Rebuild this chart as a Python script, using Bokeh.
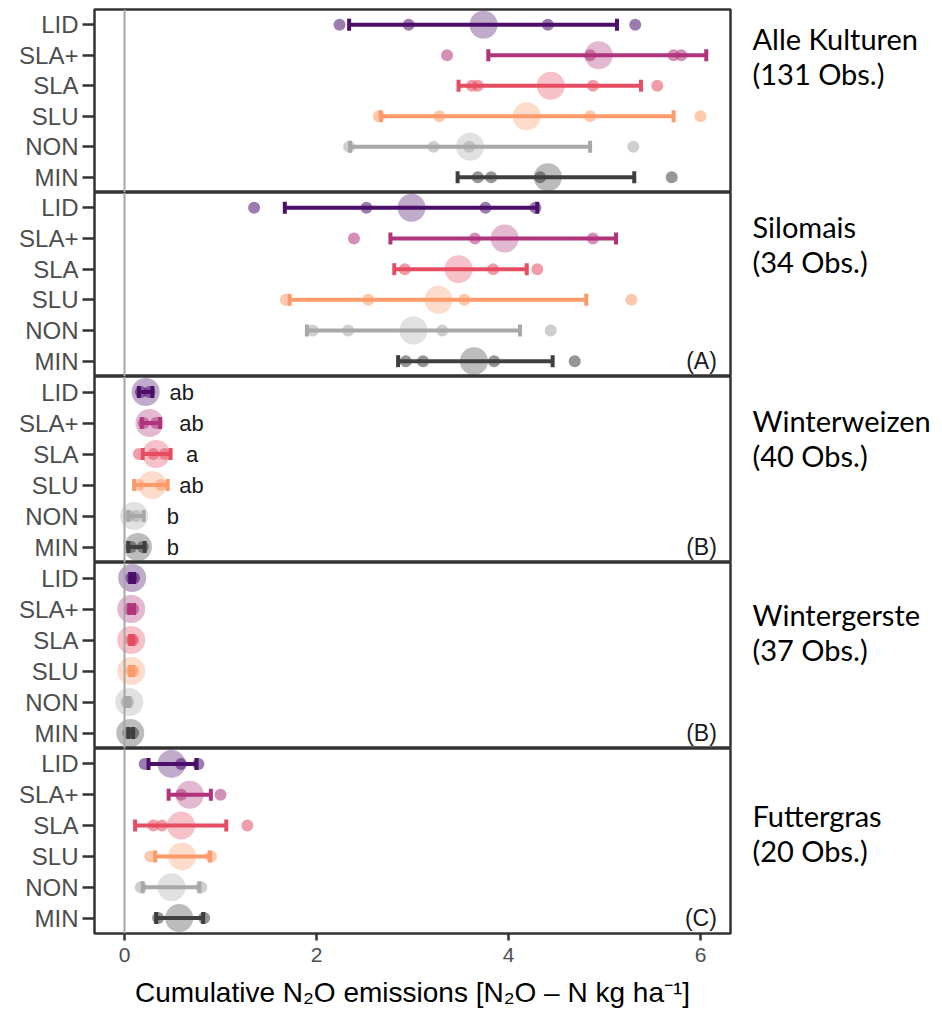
from bokeh.plotting import figure
from bokeh.models import Range1d, FactorRange, ColumnDataSource, Span, Label, FixedTicker
from bokeh.layouts import row, column
from bokeh.embed import file_html
from bokeh.resources import INLINE
from bokeh.core.properties import value

# ---------------- data ----------------
cats = ["LID", "SLA+", "SLA", "SLU", "NON", "MIN"]
colors = ["#4b0f6b", "#b0337c", "#e64d62", "#fd9a6a", "#a8a8a8", "#3f3f3f"]

crop_names = ["Alle Kulturen", "Silomais", "Winterweizen", "Wintergerste", "Futtergras"]
crop_obs = ["(131 Obs.)", "(34 Obs.)", "(40 Obs.)", "(37 Obs.)", "(20 Obs.)"]
panel_tags = ["", "(A)", "(B)", "(B)", "(C)"]

alle_mean = [3.74, 4.94, 4.44, 4.19, 3.60, 4.41]
alle_lo = [2.34, 3.79, 3.48, 2.67, 2.35, 3.47]
alle_hi = [5.13, 6.06, 5.38, 5.72, 4.85, 5.31]
alle_pts = [[2.24, 2.96, 4.41, 5.32], [3.36, 4.85, 5.72, 5.80], [3.62, 3.68, 4.88, 5.55],
            [2.65, 3.28, 4.85, 6.00], [2.34, 3.22, 3.59, 5.30], [3.68, 3.82, 4.33, 5.70]]

silo_mean = [2.99, 3.96, 3.48, 3.27, 3.01, 3.64]
silo_lo = [1.67, 2.77, 2.81, 1.72, 1.90, 2.85]
silo_hi = [4.30, 5.12, 4.19, 4.81, 4.12, 4.46]
silo_pts = [[1.35, 2.52, 3.76, 4.28], [2.39, 3.65, 4.88], [2.92, 3.84, 4.30],
            [1.68, 2.54, 3.54, 5.28], [1.96, 2.33, 3.31, 4.44], [2.93, 3.11, 3.85, 4.69]]

ww_mean = [0.22, 0.26, 0.33, 0.29, 0.10, 0.14]
ww_lo = [0.15, 0.18, 0.19, 0.10, 0.04, 0.04]
ww_hi = [0.29, 0.37, 0.48, 0.45, 0.20, 0.21]
ww_pts = [[0.17, 0.26], [0.20, 0.33], [0.15, 0.30, 0.42], [0.15, 0.38], [0.05, 0.12], [0.07, 0.19]]
ww_letters = ["ab", "ab", "a", "ab", "b", "b"]
ww_letter_x = [0.47, 0.57, 0.64, 0.57, 0.44, 0.44]

wg_mean = [0.08, 0.07, 0.07, 0.07, 0.05, 0.06]
wg_lo = [0.06, 0.05, 0.06, 0.06, 0.02, 0.04]
wg_hi = [0.10, 0.10, 0.09, 0.09, 0.05, 0.09]
wg_pts = [[0.07, 0.10], [0.05, 0.09], [0.07, 0.09], [0.07, 0.09], [0.02, 0.04], [0.04, 0.09]]

fg_mean = [0.49, 0.68, 0.59, 0.60, 0.49, 0.57]
fg_lo = [0.25, 0.46, 0.11, 0.32, 0.19, 0.33]
fg_hi = [0.75, 0.90, 1.06, 0.89, 0.78, 0.82]
fg_pts = [[0.21, 0.59, 0.77], [0.59, 1.00], [0.30, 0.39, 1.28], [0.27, 0.90], [0.17, 0.80], [0.35, 0.83]]

x_ticks = [0, 2, 4, 6]
x_title = "Cumulative N\u2082O emissions [N\u2082O \u2013 N kg ha\u207b\u00b9]"

panels = [
    (alle_mean, alle_lo, alle_hi, alle_pts),
    (silo_mean, silo_lo, silo_hi, silo_pts),
    (ww_mean, ww_lo, ww_hi, ww_pts),
    (wg_mean, wg_lo, wg_hi, wg_pts),
    (fg_mean, fg_lo, fg_hi, fg_pts),
]

# ---------------- layout ----------------
FRAME_W = 636
frame_heights = [183, 184, 186, 186, 185]
TOP_PAD = 9
BOTTOM_PAD = 78
LEFT_PAD = 94
RIGHT_PAD = 2
TEXT_W = 208
label_offset = [29, 34, 44, 52, 67]
line_gap = 35

BORDER = "#333333"
FONT = "Liberation Sans"

figs = []
for i, (mean, lo, hi, pts) in enumerate(panels):
    last = i == len(panels) - 1
    p = figure(frame_width=FRAME_W, frame_height=frame_heights[i],
               x_range=Range1d(-0.3125, 6.3125),
               y_range=FactorRange(factors=cats[::-1]),
               output_backend="svg", toolbar_location=None,
               x_axis_location="below" if last else None,
               min_border_left=LEFT_PAD, min_border_right=RIGHT_PAD,
               min_border_top=TOP_PAD if i == 0 else 0,
               min_border_bottom=BOTTOM_PAD if last else 0,
               background_fill_color="white", border_fill_color="white")
    p.outline_line_color = BORDER
    p.outline_line_width = 2.5
    p.xgrid.visible = False
    p.ygrid.visible = False

    # individual points
    px, py, pc = [], [], []
    for c, col, vals in zip(cats, colors, pts):
        for v in vals:
            px.append(v); py.append(c); pc.append(col)
    p.scatter(x=px, y=py, color=pc, size=12, alpha=0.55, line_color=None)

    src = ColumnDataSource(dict(cat=cats, mean=mean, lo=lo, hi=hi, color=colors))
    p.scatter(x="mean", y="cat", source=src, size=28, fill_color="color",
              fill_alpha=0.35, line_color=None)
    p.segment(x0="lo", y0="cat", x1="hi", y1="cat", source=src,
              line_color="color", line_width=4)
    for end in ("lo", "hi"):
        p.rect(x=end, y="cat", width=4, height=12, width_units="screen",
               height_units="screen", source=src, fill_color="color", line_color=None)

    p.add_layout(Span(location=0, dimension="height", line_color="#a6a6a6", line_width=2))

    if panel_tags[i]:
        p.add_layout(Label(x=6.17, y=0.5, text=panel_tags[i], text_align="right",
                           text_baseline="middle", text_font=FONT,
                           text_font_size="23px", text_color="#1a1a1a"))
    if i == 2:
        p.text(x=ww_letter_x, y=cats, text=ww_letters, text_align="left",
               text_baseline="middle", text_font=value(FONT),
               text_font_size="22px", text_color="#1a1a1a")

    ax = p.yaxis[0]
    ax.axis_line_color = None
    ax.major_tick_line_color = BORDER
    ax.major_tick_line_width = 2.5
    ax.major_tick_out = 12
    ax.major_tick_in = 0
    ax.minor_tick_line_color = None
    ax.major_label_text_font = FONT
    ax.major_label_text_font_size = "24px"
    ax.major_label_text_color = "#4d4d4d"
    ax.major_label_standoff = 4

    if last:
        xa = p.xaxis[0]
        xa.ticker = FixedTicker(ticks=x_ticks)
        xa.axis_line_color = None
        xa.major_tick_line_color = BORDER
        xa.major_tick_line_width = 2.5
        xa.major_tick_out = 7
        xa.major_tick_in = 0
        xa.minor_tick_line_color = None
        xa.major_label_text_font = FONT
        xa.major_label_text_font_size = "21px"
        xa.major_label_text_color = "#4d4d4d"
        xa.major_label_standoff = 7
        xa.axis_label = x_title
        xa.axis_label_text_font = FONT
        xa.axis_label_text_font_size = "28px"
        xa.axis_label_text_font_style = "normal"
        xa.axis_label_text_color = "#000000"
        xa.axis_label_standoff = 12
    figs.append(p)

TOTAL_H = TOP_PAD + sum(frame_heights) + BOTTOM_PAD

tf = figure(width=TEXT_W, height=TOTAL_H, x_range=Range1d(0, TEXT_W),
            y_range=Range1d(TOTAL_H, 0), output_backend="svg", toolbar_location=None,
            x_axis_location=None, y_axis_location=None, min_border=0,
            outline_line_color=None, background_fill_color="white",
            border_fill_color="white")
tf.xgrid.visible = False
tf.ygrid.visible = False
ty, tt = [], []
top = TOP_PAD
for i in range(len(panels)):
    ty += [top + label_offset[i], top + label_offset[i] + line_gap]
    tt += [crop_names[i], crop_obs[i]]
    top += frame_heights[i]
tf.text(x=[20] * len(tt), y=ty, text=tt, text_font=value("Lato"), text_font_size="29px",
        text_baseline="middle", text_align="left", text_color="#000000")

layout = row(column(*figs), tf)
open("out.html", "w").write(file_html(layout, INLINE))
